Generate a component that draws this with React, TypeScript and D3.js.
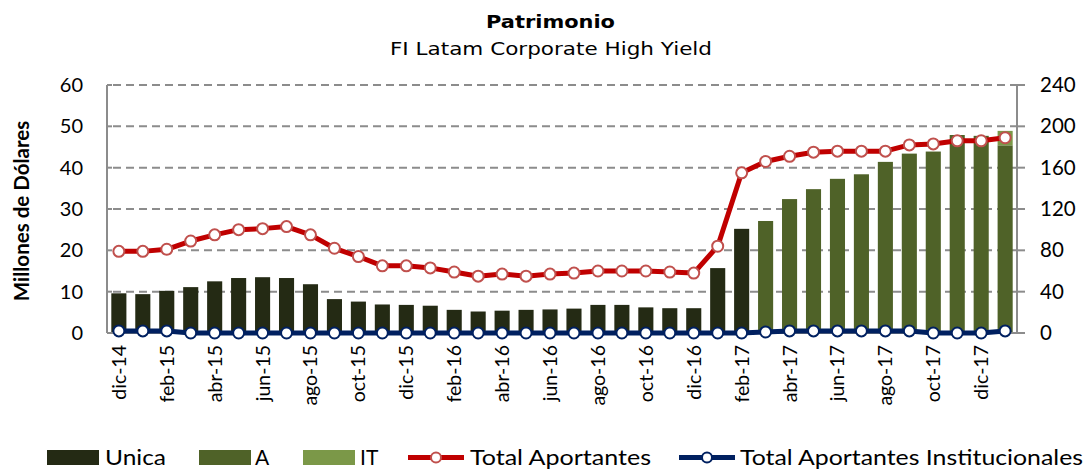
import React from "react";
import * as d3 from "d3";

const months = [
  "dic-14", "ene-15", "feb-15", "mar-15", "abr-15", "may-15", "jun-15", "jul-15", "ago-15", "sep-15", "oct-15", "nov-15",
  "dic-15", "ene-16", "feb-16", "mar-16", "abr-16", "may-16", "jun-16", "jul-16", "ago-16", "sep-16", "oct-16", "nov-16",
  "dic-16", "ene-17", "feb-17", "mar-17", "abr-17", "may-17", "jun-17", "jul-17", "ago-17", "sep-17", "oct-17", "nov-17",
  "dic-17", "ene-18",
];

// millones de dólares
const unica = [
  9.6, 9.4, 10.2, 11.1, 12.5, 13.3, 13.5, 13.3, 11.8, 8.2, 7.6, 6.9,
  6.8, 6.6, 5.6, 5.2, 5.4, 5.6, 5.7, 5.9, 6.8, 6.8, 6.2, 6.0,
  6.0, 15.7, 25.2, 0, 0, 0, 0, 0, 0, 0, 0, 0,
  0, 0,
];
const serieA = [
  0, 0, 0, 0, 0, 0, 0, 0, 0, 0, 0, 0,
  0, 0, 0, 0, 0, 0, 0, 0, 0, 0, 0, 0,
  0, 0, 0, 27.1, 32.4, 34.8, 37.3, 38.4, 41.4, 43.4, 43.9, 47.9,
  47.7, 45.4,
];
const serieIT = [
  0, 0, 0, 0, 0, 0, 0, 0, 0, 0, 0, 0,
  0, 0, 0, 0, 0, 0, 0, 0, 0, 0, 0, 0,
  0, 0, 0, 0, 0, 0, 0, 0, 0, 0, 0, 0,
  0, 3.5,
];

// número de aportantes (eje derecho)
const totalAportantes = [
  79, 79, 81, 89, 95, 100, 101, 103, 95, 82, 74, 65,
  65, 63, 59, 55, 57, 55, 57, 58, 60, 60, 60, 59,
  58, 84, 155, 166, 171, 175, 176, 176, 176, 182, 183, 186,
  186, 189,
];
const aportantesInst = [
  2, 2, 2, 0, 0, 0, 0, 0, 0, 0, 0, 0,
  0, 0, 0, 0, 0, 0, 0, 0, 0, 0, 0, 0,
  0, 0, 0, 1, 2, 2, 2, 2, 2, 2, 0, 0,
  0, 2,
];

const leftTicks = [0, 10, 20, 30, 40, 50, 60];
const rightTicks = [0, 40, 80, 120, 160, 200, 240];

const keys = ["Unica", "A", "IT"];
const colors: Record<string, string> = { Unica: "#242a14", A: "#4f6228", IT: "#7b9848" };

const W = 1086;
const H = 470;
const left = 107;
const right = 1017;
const top = 85;
const bottom = 333;

const tickFont = "Lato, 'Open Sans', sans-serif";
const titleFont = "'DejaVu Sans', Verdana, sans-serif";

export default function App() {
  const x = d3.scaleBand<string>().domain(months).range([left, right]).paddingInner(0.37).paddingOuter(0.18);
  const yL = d3.scaleLinear().domain([0, 60]).range([bottom, top]);
  const yR = d3.scaleLinear().domain([0, 240]).range([bottom, top]);

  const rows = months.map((m, i) => ({ month: m, Unica: unica[i], A: serieA[i], IT: serieIT[i] }));
  const stacked = d3.stack<any>().keys(keys)(rows);

  const cx = (i: number) => (x(months[i]) as number) + x.bandwidth() / 2;
  const line = d3.line<number>().x((_, i) => cx(i)).y(d => yR(d));

  return (
    <svg width={W} height={H} style={{ position: "absolute", left: 0, top: 0, background: "#fff" }}>
      {/* titulo */}
      <text x={486} y={28} fontFamily={titleFont} fontWeight="bold" fontSize={18} textLength={129} lengthAdjust="spacingAndGlyphs">
        Patrimonio
      </text>
      <text x={390} y={55} fontFamily={titleFont} fontSize={18} textLength={322} lengthAdjust="spacingAndGlyphs">
        FI Latam Corporate High Yield
      </text>

      {/* grilla */}
      {leftTicks.filter(t => t > 0).map(t => (
        <line key={t} x1={left + 6} x2={right} y1={yL(t)} y2={yL(t)} stroke="#8c8c8c" strokeWidth={2} strokeDasharray="8,5" />
      ))}

      {/* barras */}
      {stacked.map(layer => (
        <g key={layer.key} fill={colors[layer.key]}>
          {layer.map((d, i) =>
            d[1] - d[0] > 0 ? (
              <rect key={i} x={x(months[i])} width={x.bandwidth()} y={yL(d[1])} height={yL(d[0]) - yL(d[1])} />
            ) : null
          )}
        </g>
      ))}

      {/* ejes */}
      <line x1={left} x2={left} y1={top} y2={bottom} stroke="#8c8c8c" strokeWidth={2} />
      <line x1={right} x2={right} y1={top} y2={bottom} stroke="#8c8c8c" strokeWidth={2} />
      <line x1={left} x2={right} y1={bottom} y2={bottom} stroke="#8c8c8c" strokeWidth={2} />
      {leftTicks.map(t => (
        <g key={t}>
          <line x1={left} x2={left + 5} y1={yL(t)} y2={yL(t)} stroke="#8c8c8c" strokeWidth={2} />
          <text x={83} y={yL(t) + 7} textAnchor="end" fontFamily={tickFont} fontSize={20}>{t}</text>
        </g>
      ))}
      {rightTicks.map(t => (
        <g key={t}>
          <line x1={right} x2={right + 8} y1={yR(t)} y2={yR(t)} stroke="#8c8c8c" strokeWidth={2} />
          <text x={1040} y={yR(t) + 7} textAnchor="start" fontFamily={tickFont} fontSize={20.5}>{t}</text>
        </g>
      ))}
      <text
        transform={`translate(29,${(top + bottom) / 2 + 2}) rotate(-90)`}
        textAnchor="middle"
        fontFamily={tickFont}
        fontWeight="bold"
        fontSize={20.5}
      >
        Millones de Dólares
      </text>
      {months.map((m, i) =>
        i % 2 === 0 ? (
          <text
            key={m}
            transform={`translate(${cx(i) + 7},${bottom + 12}) rotate(-90)`}
            textAnchor="end"
            fontFamily={tickFont}
            fontSize={19.5}
          >
            {m}
          </text>
        ) : null
      )}

      {/* lineas */}
      <path d={line(totalAportantes) || ""} fill="none" stroke="#c00000" strokeWidth={5} strokeLinejoin="round" />
      {totalAportantes.map((v, i) => (
        <circle key={i} cx={cx(i)} cy={yR(v)} r={5.5} fill="#fff" stroke="#c0504d" strokeWidth={2} />
      ))}
      <path d={line(aportantesInst) || ""} fill="none" stroke="#002060" strokeWidth={5} strokeLinejoin="round" />
      {aportantesInst.map((v, i) => (
        <circle key={i} cx={cx(i)} cy={yR(v)} r={5.5} fill="#fff" stroke="#002060" strokeWidth={2} />
      ))}

      {/* leyenda */}
      <g fontFamily={tickFont} fontSize={21}>
        <rect x={47} y={450} width={52} height={15} fill={colors.Unica} />
        <text x={105} y={465} textLength={61} lengthAdjust="spacingAndGlyphs">Unica</text>
        <rect x={199} y={450} width={52} height={15} fill={colors.A} />
        <text x={255} y={465}>A</text>
        <rect x={303} y={450} width={52} height={15} fill={colors.IT} />
        <text x={360} y={465}>IT</text>
        <line x1={408} x2={464} y1={457.5} y2={457.5} stroke="#c00000" strokeWidth={5} />
        <circle cx={436} cy={457.5} r={5} fill="#fff" stroke="#c0504d" strokeWidth={2} />
        <text x={470} y={465} textLength={181} lengthAdjust="spacingAndGlyphs">Total Aportantes</text>
        <line x1={679} x2={735} y1={457.5} y2={457.5} stroke="#002060" strokeWidth={5} />
        <circle cx={707} cy={457.5} r={5} fill="#fff" stroke="#002060" strokeWidth={2} />
        <text x={740} y={465} textLength={343} lengthAdjust="spacingAndGlyphs">Total Aportantes Institucionales</text>
      </g>
    </svg>
  );
}
